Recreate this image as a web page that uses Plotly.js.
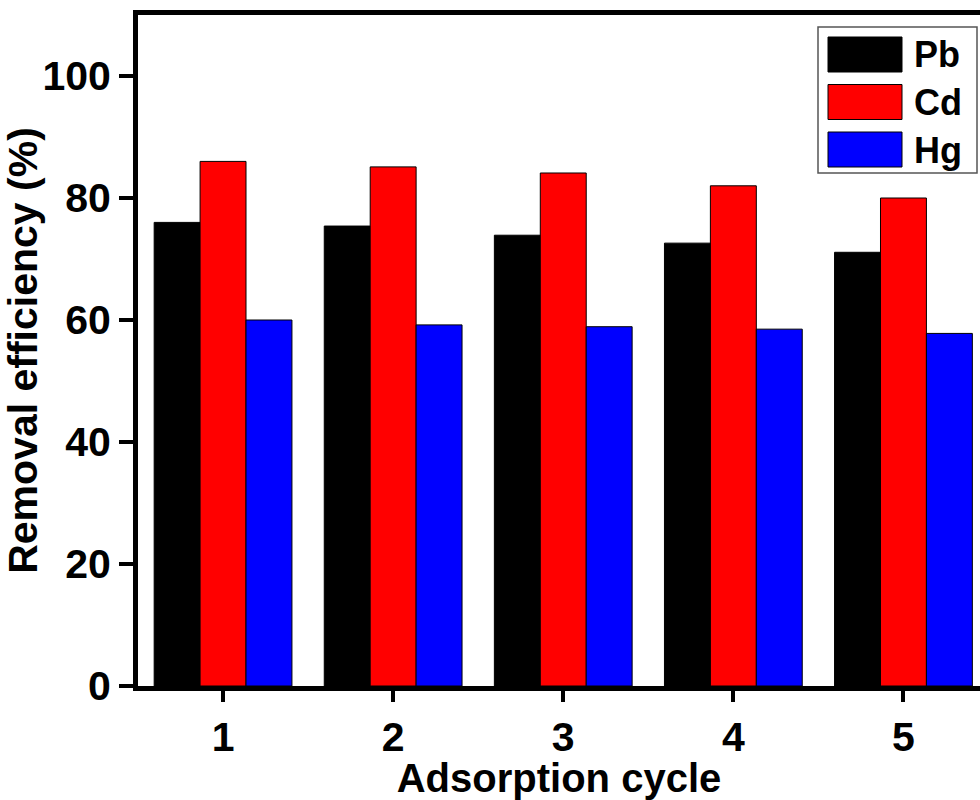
<!DOCTYPE html>
<html>
<head>
<meta charset="utf-8">
<script src="https://cdn.plot.ly/plotly-3.0.1.min.js"></script>
<style>html,body{margin:0;padding:0;background:#fff;overflow:hidden;}</style>
</head>
<body>
<div id="chart" style="width:980px;height:800px;"></div>
<script>
// ---- data ----
const cycles = [1, 2, 3, 4, 5];
const seriesNames = ["Pb", "Cd", "Hg"];
const seriesColors = ["#000000", "#ff0000", "#0000ff"];
const pbValues = [76.0, 75.4, 73.9, 72.6, 71.1];
const cdValues = [86.0, 85.1, 84.1, 82.0, 80.0];
const hgValues = [60.0, 59.2, 58.9, 58.5, 57.8];
const yTickVals = [0, 20, 40, 60, 80, 100];

const seriesValues = [pbValues, cdValues, hgValues];
const FONT = "'Liberation Sans', Arial, sans-serif";

const traces = seriesNames.map((name, i) => ({
  type: "bar",
  name: name,
  x: cycles,
  y: seriesValues[i],
  marker: { color: seriesColors[i], line: { color: "#000000", width: 1 } },
  showlegend: false
}));

// plot area geometry (pixels) for custom legend placement
const L = 138, R = 980, T = 15, B = 686;
const px = v => (v - L) / (R - L);
const py = v => (B - v) / (B - T);

const shapes = [{
  type: "rect", xref: "paper", yref: "paper",
  x0: px(818), x1: px(977), y0: py(173), y1: py(27),
  line: { color: "#555555", width: 1.5 }, fillcolor: "#ffffff", layer: "above"
}];
const annotations = [];
seriesNames.forEach((name, i) => {
  const top = 37 + i * 47.5;
  shapes.push({
    type: "rect", xref: "paper", yref: "paper",
    x0: px(828), x1: px(902), y0: py(top + 35), y1: py(top),
    line: { color: "#000000", width: 1 }, fillcolor: seriesColors[i], layer: "above"
  });
  annotations.push({
    xref: "paper", yref: "paper", x: px(912), y: py(top + 18),
    xanchor: "left", yanchor: "middle", showarrow: false,
    text: "<b>" + name + "</b>",
    font: { family: FONT, size: 36, color: "#000000" }
  });
});

const layout = {
  width: 980, height: 800,
  margin: { l: L, r: 0, t: T, b: 800 - B },
  paper_bgcolor: "#ffffff", plot_bgcolor: "#ffffff",
  barmode: "group", bargap: 0.19, bargroupgap: 0,
  showlegend: false,
  font: { family: FONT, color: "#000000" },
  xaxis: {
    range: [0.5, 5.45], tickvals: cycles, ticktext: cycles.map(String),
    showline: true, linewidth: 5, linecolor: "#000000", mirror: true,
    ticks: "outside", ticklen: 11, tickwidth: 4, tickcolor: "#000000",
    showgrid: false, zeroline: false,
    tickfont: { family: FONT, size: 41, color: "#000000", weight: "bold" },
    title: { text: "<b>Adsorption cycle</b>", font: { family: FONT, size: 40, color: "#000000" }, standoff: 6 }
  },
  yaxis: {
    range: [0, 110], tickvals: yTickVals,
    showline: true, linewidth: 5, linecolor: "#000000", mirror: false,
    ticks: "outside", ticklen: 14, tickwidth: 4, tickcolor: "#000000",
    showgrid: false, zeroline: false,
    tickfont: { family: FONT, size: 41, color: "#000000", weight: "bold" },
    title: { text: "<b>Removal efficiency (%)</b>", font: { family: FONT, size: 41, color: "#000000" }, standoff: 4 }
  },
  shapes: shapes,
  annotations: annotations
};

Plotly.newPlot("chart", traces, layout, { displayModeBar: false, staticPlot: true });
</script>
</body>
</html>
